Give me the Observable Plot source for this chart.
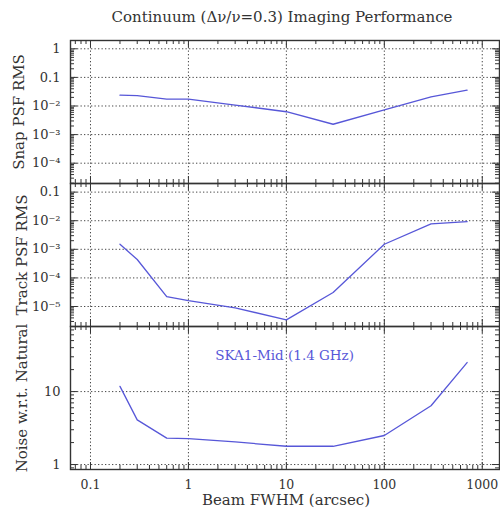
<!DOCTYPE html>
<html><head><meta charset="utf-8">
<script src="https://cdn.jsdelivr.net/npm/d3@7"></script>
<script src="https://cdn.jsdelivr.net/npm/@observablehq/plot@0.6"></script>
<style>
body{margin:0;background:#fff;}
#c{position:relative;width:500px;height:514px;overflow:hidden;background:#fff;}
#c svg{position:absolute;left:0;}
</style></head><body><div id="c"></div>
<script>
// ---- data ----
const beam      = [0.2, 0.3, 0.6, 1, 3, 10, 30, 100, 300, 700];
const snapRMS   = [0.024, 0.023, 0.0175, 0.0175, 0.0108, 0.0063, 0.0023, 0.0073, 0.021, 0.036];
const trackRMS  = [1.5e-3, 4.4e-4, 2.2e-5, 1.6e-5, 9e-6, 3.4e-6, 3.1e-5, 1.5e-3, 7.7e-3, 9.3e-3];
const noiseNat  = [11.8, 4.1, 2.3, 2.27, 2.04, 1.78, 1.78, 2.5, 6.4, 25];

const xTicks      = [0.1, 1, 10, 100, 1000];
const xTickLabels = ["0.1", "1", "10", "100", "1000"];
const snapTicks   = [1, 0.1, 0.01, 0.001, 0.0001];
const snapLabels  = ["1", "0.1", "10⁻²", "10⁻³", "10⁻⁴"];
const trackTicks  = [0.1, 0.01, 0.001, 0.0001, 0.00001];
const trackLabels = ["0.1", "10⁻²", "10⁻³", "10⁻⁴", "10⁻⁵"];
const noiseTicks  = [1, 10];
const noiseLabels = ["1", "10"];

const title   = "Continuum (Δν/ν=0.3) Imaging Performance";
const xLabel  = "Beam FWHM (arcsec)";
const yLabels = ["Snap PSF RMS", "Track PSF RMS", "Noise w.r.t. Natural"];
const note    = {text: "SKA1-Mid (1.4 GHz)", x: 9.6, y: 31};

// ---- layout / style ----
const W = 500, ML = 70, MR = 1;
const FONT = "DejaVu Serif, serif";
const INK = "#333";
const BLUE = "#5757d8";
const xDomain = [0.0625, 1500];

function minors([lo, hi]) {
  const out = [];
  for (let e = Math.floor(Math.log10(lo)); e <= Math.ceil(Math.log10(hi)); e++)
    for (let m = 2; m <= 9; m++) {
      const v = m * Math.pow(10, e);
      if (v > lo && v < hi) out.push(v);
    }
  return out;
}

const rows = (ys) => beam.map((b, i) => ({beam: b, v: ys[i]}));

function panel({top, height, mt, mb, yDomain, yTicks, yTickLabels, ys, ylab, ylabDx, extra = []}) {
  const fh = height - mt - mb, fw = W - ML - MR;
  const xMin = minors(xDomain), yMin = minors(yDomain);
  const fmt = new Map(yTicks.map((t, i) => [t, yTickLabels[i]]));
  const dash = {stroke: INK, strokeOpacity: 0.9, strokeDasharray: "1.3,2.2", strokeWidth: 1};
  const tk = {stroke: INK, strokeWidth: 1};
  const svg = Plot.plot({
    width: W, height, marginLeft: ML, marginRight: MR, marginTop: mt, marginBottom: mb,
    style: {overflow: "visible", fontFamily: FONT, color: INK, background: "transparent"},
    x: {type: "log", domain: xDomain, axis: null},
    y: {type: "log", domain: yDomain, axis: null},
    marks: [
      Plot.gridX(xTicks, dash),
      Plot.gridY(yTicks, dash),
      Plot.tickX(xTicks, {x: d => d, insetTop: fh - 7, ...tk}),
      Plot.tickX(xTicks, {x: d => d, insetBottom: fh - 7, ...tk}),
      Plot.tickX(xMin, {x: d => d, insetTop: fh - 4, ...tk}),
      Plot.tickX(xMin, {x: d => d, insetBottom: fh - 4, ...tk}),
      Plot.tickY(yTicks, {y: d => d, insetRight: fw - 7, ...tk}),
      Plot.tickY(yTicks, {y: d => d, insetLeft: fw - 7, ...tk}),
      Plot.tickY(yMin, {y: d => d, insetRight: fw - 4, ...tk}),
      Plot.tickY(yMin, {y: d => d, insetLeft: fw - 4, ...tk}),
      Plot.line(rows(ys), {x: "beam", y: "v", stroke: BLUE, strokeWidth: 1.3}),
      Plot.frame({stroke: INK, strokeWidth: 1.4}),
      Plot.axisY(yTicks, {anchor: "left", tickSize: 0, tickPadding: 10, tickFormat: d => fmt.get(d),
                          fontSize: 13, fill: INK, label: null}),
      Plot.text([ylab], {text: d => d, frameAnchor: "left", dx: ylabDx, rotate: -90,
                         fontSize: 15, fill: INK, textAnchor: "middle", lineAnchor: "middle"}),
      ...extra
    ]
  });
  svg.style.top = top + "px";
  return svg;
}

const c = document.getElementById("c");
const xfmt = new Map(xTicks.map((t, i) => [t, xTickLabels[i]]));

c.append(panel({
  top: 0, height: 183, mt: 40, mb: 0, yDomain: [1.95e-5, 1.95],
  yTicks: snapTicks, yTickLabels: snapLabels, ys: snapRMS, ylab: yLabels[0], ylabDx: -51,
  extra: [Plot.text([title], {text: d => d, frameAnchor: "top", dx: -3, dy: -23,
                              lineAnchor: "middle", fontSize: 15, fill: INK})]
}));
c.append(panel({
  top: 183, height: 143, mt: 0, mb: 0, yDomain: [2e-6, 0.2],
  yTicks: trackTicks, yTickLabels: trackLabels, ys: trackRMS, ylab: yLabels[1], ylabDx: -48
}));
c.append(panel({
  top: 326, height: 188, mt: 0, mb: 45, yDomain: [0.855, 78],
  yTicks: noiseTicks, yTickLabels: noiseLabels, ys: noiseNat, ylab: yLabels[2], ylabDx: -48,
  extra: [
    Plot.axisX(xTicks, {anchor: "bottom", tickSize: 0, tickPadding: 11, tickFormat: d => xfmt.get(d),
                        fontSize: 12.5, fill: INK, label: null}),
    Plot.text([xLabel], {text: d => d, frameAnchor: "bottom", dx: 1, dy: 31, lineAnchor: "middle",
                         fontSize: 15, fill: INK}),
    Plot.text([note], {x: "x", y: "y", text: "text", fill: BLUE, fontSize: 13.5, textAnchor: "middle"})
  ]
}));
</script></body></html>
